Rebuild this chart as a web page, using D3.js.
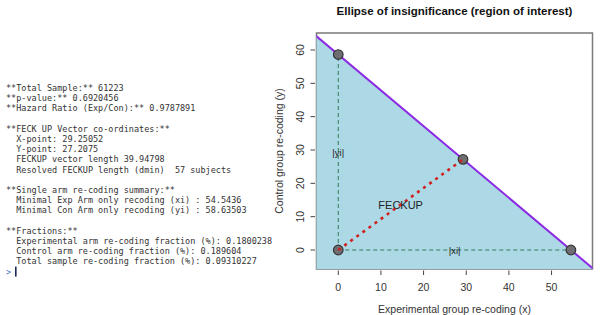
<!DOCTYPE html>
<html>
<head>
<meta charset="utf-8">
<script src="https://cdn.jsdelivr.net/npm/d3@7"></script>
<style>
  body { margin: 0; background: #fff; }
</style>
</head>
<body>
<div id="chart"></div>
<script>
    // Console output shown on the left
    const consoleLines = [
        "**Total Sample:** 61223",
        "**p-value:** 0.6920456",
        "**Hazard Ratio (Exp/Con):** 0.9787891",
        "",
        "**FECK UP Vector co-ordinates:**",
        "  X-point: 29.25052",
        "  Y-point: 27.2075",
        "  FECKUP vector length 39.94798",
        "  Resolved FECKUP length (dmin)  57 subjects",
        "",
        "**Single arm re-coding summary:**",
        "  Minimal Exp Arm only recoding (xi) : 54.5436",
        "  Minimal Con Arm only recoding (yi) : 58.63503",
        "",
        "**Fractions:**",
        "  Experimental arm re-coding fraction (%): 0.1800238",
        "  Control arm re-coding fraction (%): 0.189604",
        "  Total sample re-coding fraction (%): 0.09310227"
    ];

    // Plot data
    const xTicks = [0, 10, 20, 30, 40, 50];
    const yTicks = [0, 10, 20, 30, 40, 50, 60];
    const pointNames = ["yi", "feckup", "xi", "origin"];
    const pointX = [0, 29.25052, 54.5436, 0];
    const pointY = [58.63503, 27.2075, 0, 0];
    const xi = 54.5436;
    const yi = 58.63503;

    const W = 601, H = 315;
    const svg = d3.select("#chart")
        .append("svg")
        .attr("width", W)
        .attr("height", H);

    // ======= Console text =======
    const con = svg.append("g")
        .attr("font-family", "'DejaVu Sans Mono', 'Liberation Mono', monospace")
        .attr("font-size", 8.5)
        .attr("fill", "#333");

    con.selectAll("text")
        .data(consoleLines)
        .enter().append("text")
        .attr("x", 6)
        .attr("y", (d, i) => 91 + i * 10.2)
        .attr("xml:space", "preserve")
        .style("white-space", "pre")
        .text(d => d);

    // prompt + cursor
    con.append("text")
        .attr("x", 6)
        .attr("y", 91 + consoleLines.length * 10.2)
        .attr("fill", "#4a78c0")
        .text(">");
    con.append("rect")
        .attr("x", 15)
        .attr("y", 91 + consoleLines.length * 10.2 - 8)
        .attr("width", 1.6)
        .attr("height", 10)
        .attr("fill", "#1c2a5a");

    // ======= Plot =======
    const plot = { left: 316.5, right: 592.5, top: 33, bottom: 269 };
    const x = d3.scaleLinear().domain([-5.1, 59.6]).range([plot.left, plot.right]);
    const y = d3.scaleLinear().domain([-5.7, 65.1]).range([plot.bottom, plot.top]);

    svg.append("defs").append("clipPath")
        .attr("id", "clip")
        .append("rect")
        .attr("x", plot.left)
        .attr("y", plot.top)
        .attr("width", plot.right - plot.left)
        .attr("height", plot.bottom - plot.top);

    // frame
    svg.append("rect")
        .attr("x", plot.left)
        .attr("y", plot.top)
        .attr("width", plot.right - plot.left)
        .attr("height", plot.bottom - plot.top)
        .attr("fill", "none")
        .attr("stroke", "#7a7a7a")
        .attr("stroke-width", 1.5);

    const lineY = xv => yi - (yi / xi) * xv;
    const [x0, x1] = x.domain();
    const [y0] = y.domain();

    const inner = svg.append("g").attr("clip-path", "url(#clip)");

    // region under the line
    inner.append("path")
        .datum([[x0 - 2, y0 - 2], [x0 - 2, lineY(x0 - 2)], [x1 + 2, lineY(x1 + 2)], [x1 + 2, y0 - 2]])
        .attr("fill", "#add8e6")
        .attr("d", d3.line().x(d => x(d[0])).y(d => y(d[1])));

    // boundary line
    inner.append("line")
        .attr("x1", x(x0 - 2)).attr("y1", y(lineY(x0 - 2)))
        .attr("x2", x(x1 + 2)).attr("y2", y(lineY(x1 + 2)))
        .attr("stroke", "#8a2be2")
        .attr("stroke-width", 2);

    // xi / yi dashed guides
    inner.append("line")
        .attr("x1", x(0)).attr("y1", y(0))
        .attr("x2", x(0)).attr("y2", y(yi))
        .attr("stroke", "#357a55")
        .attr("stroke-width", 1)
        .attr("stroke-dasharray", "4,3");
    inner.append("line")
        .attr("x1", x(0)).attr("y1", y(0))
        .attr("x2", x(xi)).attr("y2", y(0))
        .attr("stroke", "#357a55")
        .attr("stroke-width", 1)
        .attr("stroke-dasharray", "4,3");

    // points
    inner.selectAll("circle")
        .data(pointNames)
        .enter().append("circle")
        .attr("cx", (d, i) => x(pointX[i]))
        .attr("cy", (d, i) => y(pointY[i]))
        .attr("r", 4.8)
        .attr("fill", "#6e6e72")
        .attr("stroke", "#333")
        .attr("stroke-width", 1.2);

    // FECKUP vector
    inner.append("line")
        .attr("x1", x(0)).attr("y1", y(0))
        .attr("x2", x(pointX[1])).attr("y2", y(pointY[1]))
        .attr("stroke", "#d02020")
        .attr("stroke-width", 2.6)
        .attr("stroke-dasharray", "3,4.5");

    // in-plot labels
    const lab = svg.append("g")
        .attr("font-family", "'Liberation Sans', Arial, sans-serif")
        .attr("fill", "#222")
        .attr("text-anchor", "middle");
    lab.append("text")
        .attr("x", x(0)).attr("y", y(yi / 2) + 3.5)
        .attr("font-size", 9.5)
        .text("|yi|");
    lab.append("text")
        .attr("x", x(xi / 2)).attr("y", y(0) + 3.5)
        .attr("font-size", 9.5)
        .text("|xi|");
    lab.append("text")
        .attr("x", x(pointX[1] / 2)).attr("y", y(pointY[1] / 2) + 4)
        .attr("font-size", 11)
        .text("FECKUP");

    // axes
    const axisFont = "'Liberation Sans', Arial, sans-serif";
    const xAxis = svg.append("g");
    xAxis.selectAll("line")
        .data(xTicks)
        .enter().append("line")
        .attr("x1", d => x(d)).attr("x2", d => x(d))
        .attr("y1", plot.bottom + 1.5).attr("y2", plot.bottom + 6)
        .attr("stroke", "#444");
    xAxis.selectAll("text")
        .data(xTicks)
        .enter().append("text")
        .attr("x", d => x(d))
        .attr("y", 290.5)
        .attr("text-anchor", "middle")
        .attr("font-family", axisFont)
        .attr("font-size", 10.5)
        .attr("fill", "#333")
        .text(d => d);

    const yAxis = svg.append("g");
    yAxis.selectAll("line")
        .data(yTicks)
        .enter().append("line")
        .attr("x1", plot.left - 6).attr("x2", plot.left - 1.5)
        .attr("y1", d => y(d)).attr("y2", d => y(d))
        .attr("stroke", "#444");
    yAxis.selectAll("text")
        .data(yTicks)
        .enter().append("text")
        .attr("transform", d => `translate(303.5,${y(d)}) rotate(-90)`)
        .attr("text-anchor", "middle")
        .attr("font-family", axisFont)
        .attr("font-size", 10.5)
        .attr("fill", "#333")
        .text(d => d);

    // titles
    svg.append("text")
        .attr("x", (plot.left + plot.right) / 2)
        .attr("y", 15)
        .attr("text-anchor", "middle")
        .attr("font-family", axisFont)
        .attr("font-weight", "bold")
        .attr("font-size", 11.5)
        .attr("fill", "#111")
        .text("Ellipse of insignificance (region of interest)");

    svg.append("text")
        .attr("x", (plot.left + plot.right) / 2)
        .attr("y", 312.5)
        .attr("text-anchor", "middle")
        .attr("font-family", axisFont)
        .attr("font-size", 10.5)
        .attr("fill", "#333")
        .text("Experimental group re-coding (x)");

    svg.append("text")
        .attr("transform", `translate(283,${(plot.top + plot.bottom) / 2}) rotate(-90)`)
        .attr("text-anchor", "middle")
        .attr("font-family", axisFont)
        .attr("font-size", 10.5)
        .attr("fill", "#333")
        .text("Control group re-coding (y)");
</script>
</body>
</html>
